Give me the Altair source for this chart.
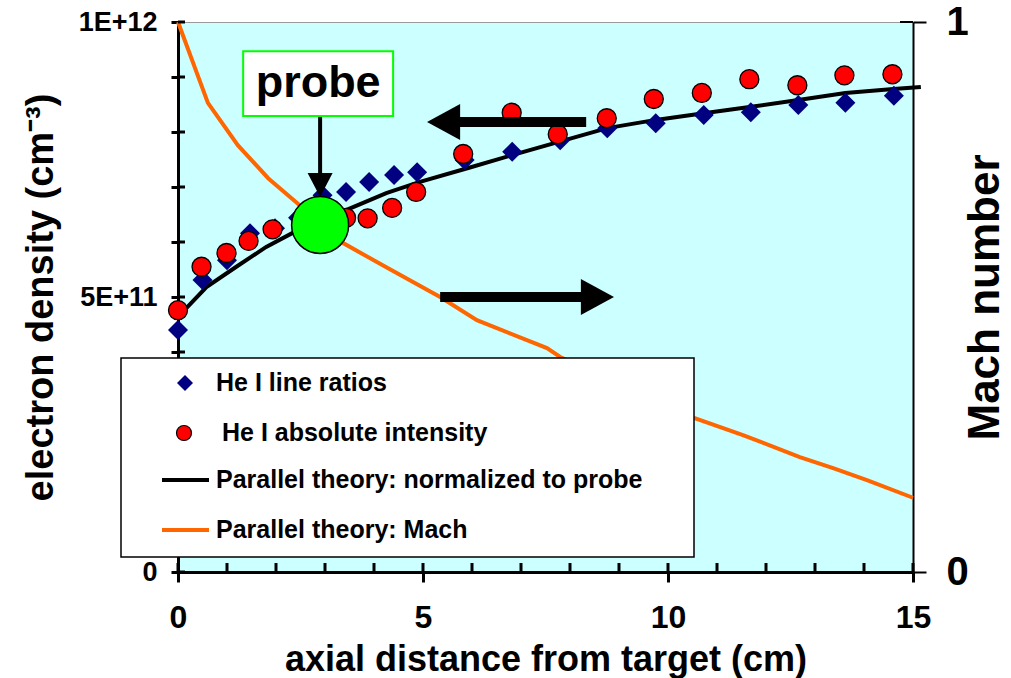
import altair as alt
import pandas as pd

# ---------------- data ----------------
ratio_x = [0.0, 0.5, 1.0, 1.47, 1.98, 2.45, 2.95, 3.43, 3.9, 4.41, 4.88, 5.85, 6.82,
           7.8, 8.76, 9.75, 10.73, 11.69, 12.66, 13.62, 14.61]
ratio_ne = [4.40e11, 5.31e11, 5.67e11, 6.16e11, 6.25e11, 6.44e11, 6.85e11, 6.91e11,
            7.09e11, 7.22e11, 7.27e11, 7.49e11, 7.64e11, 7.85e11, 8.07e11, 8.16e11,
            8.31e11, 8.36e11, 8.49e11, 8.53e11, 8.66e11]

abs_x = [0.0, 0.48, 0.99, 1.44, 1.93, 3.43, 3.87, 4.37, 4.86, 5.82, 6.81, 7.75,
         8.75, 9.71, 10.69, 11.66, 12.64, 13.6, 14.58]
abs_ne = [4.76e11, 5.55e11, 5.80e11, 6.02e11, 6.23e11, 6.44e11, 6.43e11, 6.62e11,
          6.91e11, 7.60e11, 8.35e11, 7.96e11, 8.25e11, 8.60e11, 8.71e11, 8.96e11,
          8.85e11, 9.03e11, 9.05e11]

theory_x = [0.0, 0.58, 1.19, 1.8, 2.33, 2.88, 3.43, 4.25, 4.92, 5.94, 6.82, 7.77,
            8.76, 9.75, 10.73, 11.7, 12.66, 13.62, 14.6, 15.16]
theory_ne = [4.64e11, 5.18e11, 5.55e11, 5.91e11, 6.16e11, 6.31e11, 6.58e11, 6.89e11,
             7.09e11, 7.35e11, 7.58e11, 7.82e11, 8.07e11, 8.22e11, 8.34e11, 8.46e11,
             8.58e11, 8.71e11, 8.78e11, 8.82e11]

mach_x = [0.0, 0.61, 1.22, 1.84, 2.43, 3.37, 4.27, 5.35, 6.1, 7.53, 7.8, 10.53,
          11.53, 12.69, 13.37, 14.06, 15.0]
mach_val = [1.0, 0.853, 0.776, 0.716, 0.671, 0.598, 0.553, 0.5, 0.458, 0.407, 0.391,
            0.28, 0.249, 0.209, 0.189, 0.167, 0.135]

probe_x = [2.9]
probe_ne = [6.31e11]

x_label_ticks = [0, 5, 10, 15]
x_all_ticks = [0, 1, 2, 3, 4, 5, 6, 7, 8, 9, 10, 11, 12, 13, 14, 15]
ne_ticks = [0.0, 1e11, 2e11, 3e11, 4e11, 5e11, 6e11, 7e11, 8e11, 9e11, 1e12]
mach_ticks = [0, 1]

legend_labels = ["He I line ratios", "He I absolute intensity",
                 "Parallel theory: normalized to probe", "Parallel theory: Mach"]

# ---------------- styling / layout ----------------
FONT = "Liberation Sans, Arial, Helvetica, sans-serif"
W, H = 735, 550

xs = alt.Scale(domain=[0, 15], nice=False, zero=False)
ds = alt.Scale(domain=[0, 1e12], nice=False)
ms = alt.Scale(domain=[0, 1], nice=False)

one = pd.DataFrame({"k": [0]})

x_axis = alt.Axis(values=x_label_ticks, format="d", tickSize=10, tickWidth=3, domainWidth=3,
                  labelPadding=20, labelFontSize=32, labelFlush=False, labelOverlap=False,
                  title="axial distance from target (cm)", titleFontSize=36,
                  titleX=W / 2, titleY=98, titleAlign="center", titleBaseline="alphabetic",
                  grid=False, orient="bottom")

left_axis = alt.Axis(values=ne_ticks, orient="left", tickSize=7, tickWidth=3, domainWidth=3,
                     labelPadding=14, labelFontSize=27, labelBaseline="middle",
                     labelExpr="datum.value == 0 ? '0' : datum.value == 500000000000 ? '5E+11' : datum.value == 1000000000000 ? '1E+12' : ''",
                     title="electron density (cm⁻³)", titleFontSize=38, titleAngle=270,
                     titleX=-126, titleY=H / 2, titleAlign="center", titleBaseline="alphabetic",
                     grid=False)

right_axis = alt.Axis(values=mach_ticks, orient="right", format="d", tickSize=13, tickWidth=2,
                      domainWidth=2, labelPadding=20, labelFontSize=40, labelBaseline="middle",
                      title="Mach number", titleFontSize=44, titleAngle=270,
                      titleX=85, titleY=H / 2, titleAlign="center", titleBaseline="alphabetic",
                      grid=False)


def X(field):
    return alt.X(field, scale=xs, axis=x_axis)


def YD(field):
    return alt.Y(field, scale=ds, axis=left_axis)


def YM(field):
    return alt.Y(field, scale=ms, axis=right_axis)


# ---------------- Mach (right axis) ----------------
mach_df = pd.DataFrame({"x": mach_x, "m": mach_val})
mach_line = alt.Chart(mach_df).mark_line(color="#FF6600", strokeWidth=4).encode(
    x=X("x:Q"), y=YM("m:Q"))
mach_in_ticks = alt.Chart(pd.DataFrame({"v": mach_ticks})).mark_rule(color="black", strokeWidth=2).encode(
    y=YM("v:Q"), x=alt.value(W - 13), x2=alt.value(W))
mach_group = alt.layer(mach_line, mach_in_ticks)

# ---------------- density (left axis) ----------------
theory = alt.Chart(pd.DataFrame({"x": theory_x, "ne": theory_ne})).mark_line(
    color="black", strokeWidth=4, clip=False).encode(x=X("x:Q"), y=YD("ne:Q"))

ne_in_ticks = alt.Chart(pd.DataFrame({"v": ne_ticks})).mark_rule(color="black", strokeWidth=3).encode(
    y=YD("v:Q"), x=alt.value(0), x2=alt.value(7))

x_in_ticks = alt.Chart(pd.DataFrame({"t": x_all_ticks})).mark_rule(color="black", strokeWidth=3).encode(
    x=X("t:Q"), y=alt.value(H - 9), y2=alt.value(H))

diamonds = alt.Chart(pd.DataFrame({"x": ratio_x, "ne": ratio_ne})).mark_point(
    shape="diamond", filled=True, color="#000080", size=400, opacity=1).encode(
    x=X("x:Q"), y=YD("ne:Q"))

circles = alt.Chart(pd.DataFrame({"x": abs_x, "ne": abs_ne})).mark_point(
    shape="circle", filled=True, fill="#FF0000", stroke="black", strokeWidth=1.3,
    size=361, opacity=1).encode(x=X("x:Q"), y=YD("ne:Q"))

# probe annotation (data coordinates)
probe_dot = alt.Chart(pd.DataFrame({"x": probe_x, "ne": probe_ne})).mark_point(
    shape="circle", filled=True, fill="#00FF00", stroke="black", strokeWidth=1.5,
    size=3250, opacity=1).encode(x=X("x:Q"), y=YD("ne:Q"))

box = alt.Chart(pd.DataFrame({"x1": [1.33], "x2": [4.39], "y1": [8.29e11], "y2": [9.47e11]})).mark_rect(
    fill="white", stroke="#00FF00", strokeWidth=2).encode(
    x=X("x1:Q"), x2="x2:Q", y=YD("y1:Q"), y2="y2:Q")

box_text = alt.Chart(pd.DataFrame({"x": [2.86], "ne": [8.89e11], "t": ["probe"]})).mark_text(
    font=FONT, fontSize=45, fontWeight="bold", color="black", align="center", baseline="middle").encode(
    x=X("x:Q"), y=YD("ne:Q"), text="t:N")

probe_shaft = alt.Chart(pd.DataFrame({"x": [2.9], "y1": [8.29e11], "y2": [7.2e11]})).mark_rule(
    color="black", strokeWidth=4).encode(x=X("x:Q"), y=YD("y1:Q"), y2="y2:Q")

probe_head = alt.Chart(pd.DataFrame({"x": [2.9], "ne": [7.036e11]})).mark_point(
    shape="M-1,-0.96L1,-0.96L0,0.96Z", filled=True, color="black", size=625, opacity=1).encode(
    x=X("x:Q"), y=YD("ne:Q"))

# big direction arrows
left_shaft = alt.Chart(pd.DataFrame({"x1": [5.7], "x2": [8.33], "ne": [8.18e11]})).mark_rule(
    color="black", strokeWidth=10).encode(x=X("x1:Q"), x2="x2:Q", y=YD("ne:Q"))
left_head = alt.Chart(pd.DataFrame({"x": [5.42], "ne": [8.18e11]})).mark_point(
    shape="M0.92,-1L0.92,1L-0.92,0Z", filled=True, color="black", size=1296, opacity=1).encode(
    x=X("x:Q"), y=YD("ne:Q"))

right_shaft = alt.Chart(pd.DataFrame({"x1": [5.35], "x2": [8.25], "ne": [5.0e11]})).mark_rule(
    color="black", strokeWidth=10).encode(x=X("x1:Q"), x2="x2:Q", y=YD("ne:Q"))
right_head = alt.Chart(pd.DataFrame({"x": [8.56], "ne": [5.0e11]})).mark_point(
    shape="M-0.92,-1L-0.92,1L0.92,0Z", filled=True, color="black", size=1296, opacity=1).encode(
    x=X("x:Q"), y=YD("ne:Q"))

# ---------------- legend box ----------------
legend_box = alt.Chart(one).mark_rect(fill="white", stroke="black", strokeWidth=1.5).encode(
    x=alt.value(-57), x2=alt.value(516), y=alt.value(336), y2=alt.value(535))
rows = [361, 411, 458, 508]
leg_diamond = alt.Chart(one).mark_point(shape="diamond", filled=True, color="#000080",
                                        size=256, opacity=1).encode(x=alt.value(7), y=alt.value(rows[0]))
leg_circle = alt.Chart(one).mark_point(shape="circle", filled=True, fill="#FF0000", stroke="black",
                                       strokeWidth=1.2, size=225, opacity=1).encode(
    x=alt.value(6), y=alt.value(rows[1]))
leg_black = alt.Chart(one).mark_rule(color="black", strokeWidth=4).encode(
    x=alt.value(-16), x2=alt.value(31), y=alt.value(rows[2]))
leg_orange = alt.Chart(one).mark_rule(color="#FF6600", strokeWidth=4).encode(
    x=alt.value(-16), x2=alt.value(31), y=alt.value(rows[3]))
text_x = [38, 44, 38, 38]
leg_texts = [
    alt.Chart(pd.DataFrame({"t": [lab]})).mark_text(
        font=FONT, fontSize=25, fontWeight="bold", color="black", align="left", baseline="middle").encode(
        x=alt.value(tx), y=alt.value(ry), text="t:N")
    for lab, tx, ry in zip(legend_labels, text_x, rows)
]

density_group = alt.layer(
    theory, ne_in_ticks, x_in_ticks, diamonds, circles,
    probe_dot, probe_shaft, probe_head, box, box_text,
    left_shaft, left_head, right_shaft, right_head,
    legend_box, leg_diamond, leg_circle, leg_black, leg_orange, *leg_texts,
)

chart = alt.layer(mach_group, density_group).resolve_scale(y="independent").properties(
    width=W, height=H,
    padding={"left": 178, "top": 22, "right": 98, "bottom": 106},
    autosize=alt.AutoSizeParams(type="none"),
    background="white",
).configure_view(
    fill="#CCFFFF", stroke="#999999", strokeWidth=1,
).configure_axis(
    labelFont=FONT, titleFont=FONT, labelFontWeight="bold", titleFontWeight="bold",
    labelColor="black", titleColor="black", domainColor="black", tickColor="black", grid=False,
)

chart.save("out.html", embed_options={"renderer": "svg", "actions": False})
